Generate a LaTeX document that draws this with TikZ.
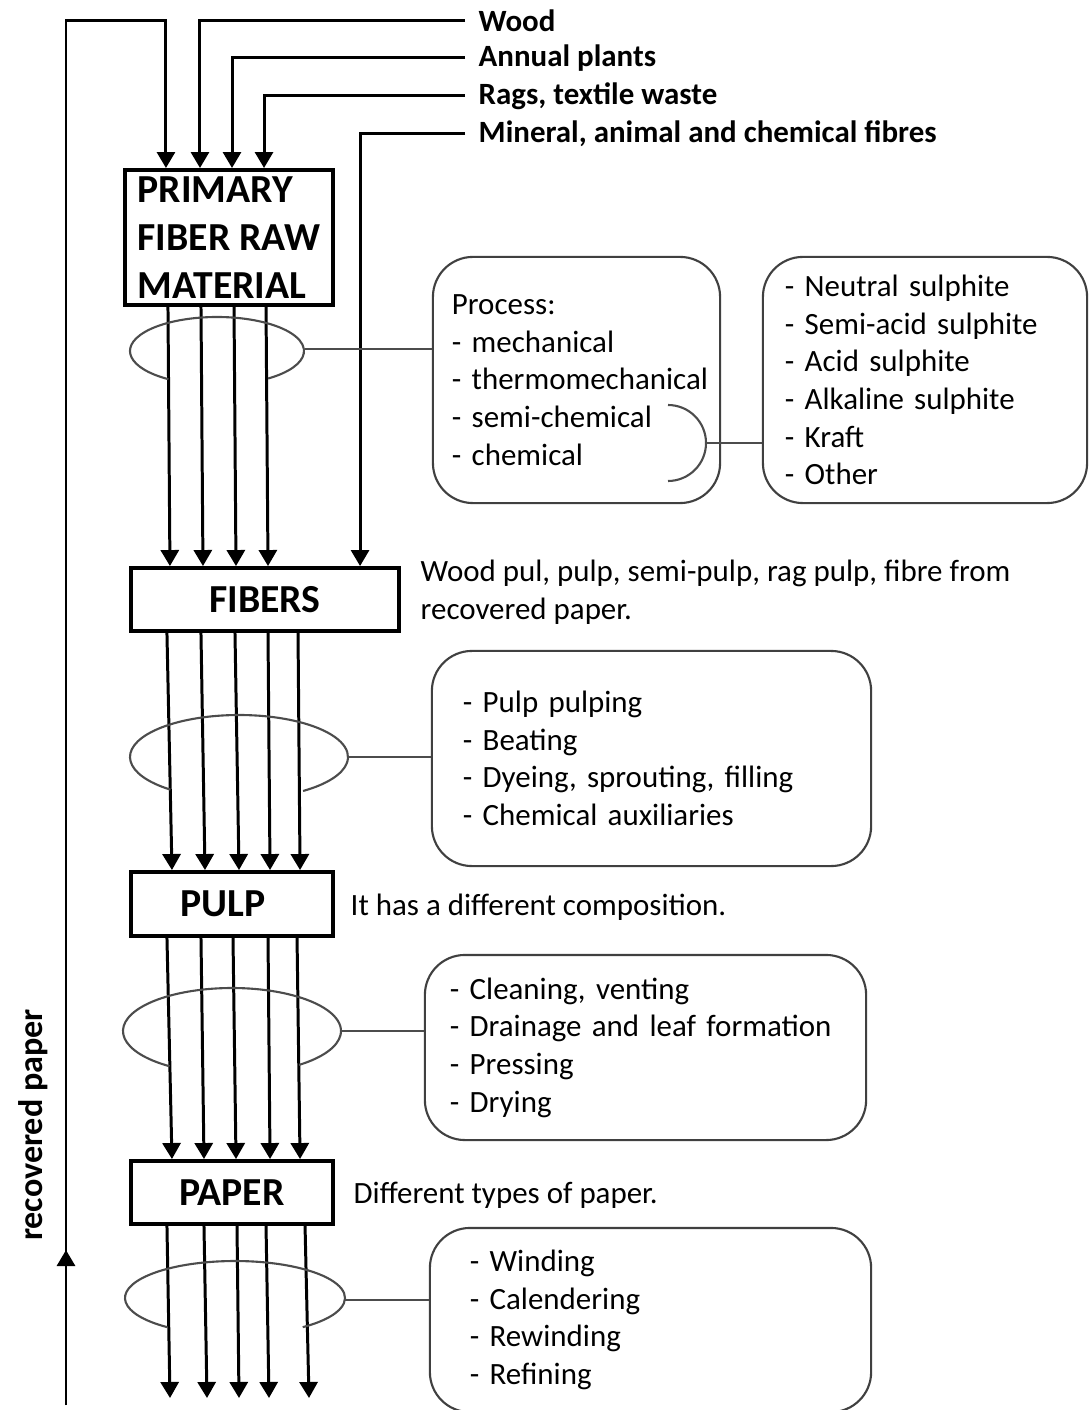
\documentclass[tikz,border=0pt]{standalone}
\usepackage{fontspec}
\setmainfont{Carlito}
\usetikzlibrary{arrows.meta}
\hyphenpenalty=10000
\exhyphenpenalty=10000

\begin{document}
\begin{tikzpicture}[x=0.01cm,y=-0.01cm,
  feed/.style={-{Triangle[length=1.6mm,width=1.8mm]},line width=0.85pt},
  stage/.style={draw,line width=1.1pt,inner sep=0pt,align=left,font=\bfseries\fontsize{11.3}{13.7}\selectfont},
  steps/.style={draw=black!75,line width=0.6pt,rounded corners=4mm,align=left,inner ysep=0pt,font=\fontsize{8.8}{10.7}\selectfont},
  ring/.style={draw=black!70,line width=0.6pt},
  source/.style={anchor=west,inner xsep=1.3mm,font=\bfseries\fontsize{8.8}{10.6}\selectfont},
  note/.style={anchor=west,inner sep=0pt,align=left,font=\fontsize{8.8}{10.7}\selectfont},
]
\useasboundingbox (0,0) rectangle (1089,1410);

\node[stage,minimum width=2.08cm,minimum height=1.35cm] (primary) at (229,237.5) {PRIMARY\\FIBER RAW\\MATERIAL};
\node[stage,minimum width=2.68cm,minimum height=0.63cm] (fibers) at (265,599.5) {FIBERS};
\node[stage,minimum width=2.02cm,minimum height=0.64cm] (pulp) at (232,904) {PULP\hspace*{1.8mm}};
\node[stage,minimum width=2.02cm,minimum height=0.63cm] (paper) at (232,1192.5) {PAPER};

\node[source] (wood) at (465,21) {Wood};
\node[source] (annual) at (465,58) {Annual plants};
\node[source] (rags) at (465,96) {Rags, textile waste};
\node[source] (mineral) at (465,134) {Mineral, animal and chemical fibres};

\node[steps,minimum width=2.87cm,minimum height=2.46cm,text width=2.49cm,inner xsep=1.9mm] (process) at (576.5,380)
  {Process:\\-~mechanical\\-~thermomechanical\\-~semi-chemical\\-~chemical};
\node[steps,minimum width=3.24cm,minimum height=2.46cm,text width=2.8cm,inner xsep=2.2mm] (kinds) at (925,380)
  {-~Neutral sulphite\\-~Semi-acid sulphite\\-~Acid sulphite\\-~Alkaline sulphite\\-~Kraft\\-~Other};
\node[steps,minimum width=4.39cm,minimum height=2.15cm,text width=3.77cm,inner xsep=3.1mm] (stock) at (651.5,758.5)
  {-~Pulp pulping\\-~Beating\\-~Dyeing, sprouting, filling\\-~Chemical auxiliaries};
\node[steps,minimum width=4.41cm,minimum height=1.85cm,text width=3.91cm,inner xsep=2.5mm] (machine) at (645.5,1047.5)
  {-~Cleaning, venting\\-~Drainage and leaf formation\\-~Pressing\\-~Drying};
\node[steps,minimum width=4.41cm,minimum height=1.84cm,text width=3.61cm,inner xsep=4mm] (finish) at (650.5,1320)
  {-~Winding\\-~Calendering\\-~Rewinding\\-~Refining};

\node[note] (fibersnote) at ([xshift=1.9mm,yshift=0.75mm]fibers.east) {Wood pul, pulp, semi-pulp, rag pulp, fibre from\\recovered paper.};
\node[note] (pulpnote) at ([xshift=1.5mm,yshift=-0.3mm]pulp.east) {It has a different composition.};
\node[note] (papernote) at ([xshift=1.8mm,yshift=-0.3mm]paper.east) {Different types of paper.};
\node[rotate=90,font=\bfseries\fontsize{9.7}{11}\selectfont] (recovered) at (33,1125) {recovered paper};

\coordinate (loopstart) at (66,1405);
\coordinate (loopmark) at (66,1250);
\coordinate (looptop) at (66,21);
\draw[feed] (loopstart) -- (looptop) -| ([xshift=-6.3mm]primary.north);
\draw[feed] (loopstart) -- (loopmark);
\draw[feed] (wood.west) -| ([xshift=-2.9mm]primary.north);
\draw[feed] (annual.west) -| ([xshift=0.3mm]primary.north);
\draw[feed] (rags.west) -| ([xshift=3.5mm]primary.north);
\draw[feed] (mineral.west) -| ([xshift=9.5mm]fibers.north);

\foreach \a/\b in {-6.1/-9.5,-2.8/-6.2,0.5/-2.9,3.7/0.3}
  \draw[feed] ([xshift=\a mm]primary.south) -- ([xshift=\b mm]fibers.north);
\foreach \a/\b in {-9.8/-6,-6.4/-2.7,-3/0.7,0.3/3.8,3.3/6.8}
  \draw[feed] ([xshift=\a mm]fibers.south) -- ([xshift=\b mm]pulp.north);
\foreach \a/\b in {-6.5/-6,-3.1/-2.8,0.1/0.4,3.6/3.8,6.5/6.8}
  \draw[feed] ([xshift=\a mm]pulp.south) -- ([xshift=\b mm]paper.north);
\foreach \a/\b [count=\i] in {-6.5/170,-2.8/207,0.5/239,3.4/269,7.3/309}{
  \coordinate (out\i) at (\b,1398);
  \draw[feed] ([xshift=\a mm]paper.south) -- (out\i);
}

\draw[ring] (217,351) ++(124:87 and 34) arc[start angle=124,end angle=414,x radius=87,y radius=34];
\draw[ring] (239,757) ++(129:109 and 42) arc[start angle=129,end angle=414,x radius=109,y radius=42];
\draw[ring] (232,1031) ++(125:109 and 43) arc[start angle=125,end angle=412,x radius=109,y radius=43];
\draw[ring] (235,1298) ++(128:110 and 37) arc[start angle=128,end angle=412,x radius=110,y radius=37];
\draw[ring] (668,405) arc[start angle=-90,end angle=90,radius=38];

\coordinate (ring1) at (305,349);
\coordinate (ring2) at (348,757);
\coordinate (ring3) at (341,1031);
\coordinate (ring4) at (345,1300);
\coordinate (bracket) at (706,443);
\draw[ring] (ring1) -- (ring1 -| process.west);
\draw[ring] (ring2) -- (ring2 -| stock.west);
\draw[ring] (ring3) -- (ring3 -| machine.west);
\draw[ring] (ring4) -- (ring4 -| finish.west);
\draw[ring] (bracket) -- (bracket -| kinds.west);
\end{tikzpicture}
\end{document}
